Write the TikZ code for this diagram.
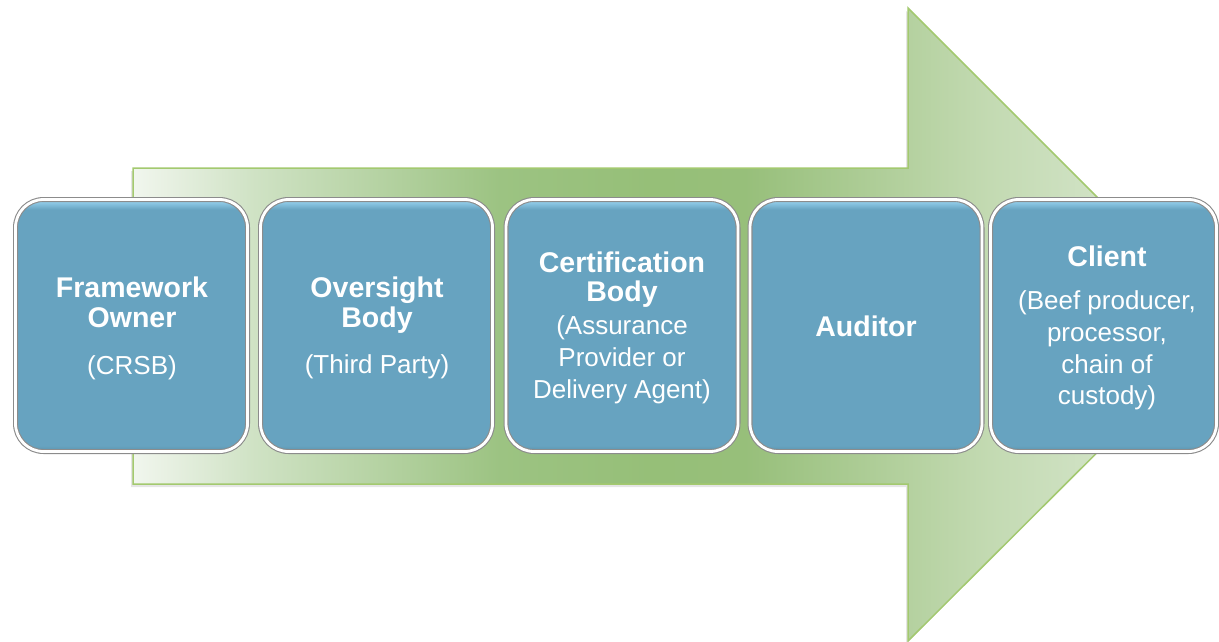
\documentclass[tikz,border=0pt]{standalone}
\usepackage{fontspec}
\setmainfont{Liberation Sans}
\usetikzlibrary{shadows}
\definecolor{a0}{HTML}{F1F6EE}
\definecolor{a1}{HTML}{CFE2C4}
\definecolor{a2}{HTML}{9CC382}
\definecolor{a3}{HTML}{96BF78}
\definecolor{a3b}{HTML}{97BF7A}
\definecolor{a4}{HTML}{C3DAB2}
\definecolor{a5}{HTML}{E0ECDA}
\definecolor{arrowedge}{HTML}{A3C96F}
\definecolor{bmain}{HTML}{67A3C0}
\definecolor{bdk}{HTML}{5A93AE}
\definecolor{blt}{HTML}{92CDEA}
\definecolor{boxedge}{HTML}{8C8C8C}
\pgfdeclarehorizontalshading{arrowshade}{100bp}{color(0bp)=(a0); color(25bp)=(a0); color(30.6bp)=(a1); color(41.8bp)=(a2); color(48.7bp)=(a3); color(53bp)=(a3b); color(64.2bp)=(a4); color(75bp)=(a5); color(100bp)=(a5)}
\pgfdeclareverticalshading{boxshade}{100bp}{color(0bp)=(bdk); color(25bp)=(bdk); color(26.2bp)=(bmain); color(73bp)=(bmain); color(74.6bp)=(blt); color(75bp)=(blt); color(100bp)=(blt)}
\tikzset{
  box/.style={rectangle, minimum width=232pt, minimum height=252pt, inner sep=0pt,
    rounded corners=28pt, shading=boxshade, draw=boxedge, double=white,
    line width=1.1pt, double distance=2.8pt,
    drop shadow={shadow xshift=1.2pt, shadow yshift=-1.6pt, opacity=0.35, fill=black}},
  ttl/.style={anchor=base, inner sep=0pt, text=white, font=\fontsize{28.5}{30}\selectfont\bfseries},
  sub/.style={anchor=base, inner sep=0pt, text=white, font=\fontsize{26}{32}\selectfont}
}
\begin{document}
\begin{tikzpicture}[x=1pt, y=-1pt]
\useasboundingbox (0,0) rectangle (1219,642);
% arrow shadow
\fill[black, opacity=0.10, shift={(-2,3)}]
  (133,168) -- (908,168) -- (908,8) -- (1225,325) -- (908,641) -- (908,484) -- (133,484) -- cycle;
% arrow
\path[shading=arrowshade, draw=arrowedge, line width=1.5pt, line join=miter]
  (133,168) -- (908,168) -- (908,8) -- (1225,325) -- (908,641) -- (908,484) -- (133,484) -- cycle;
% boxes
\node[box] (b1) at (131.5,325.5) {};
\node[box] (b2) at (376.5,325.5) {};
\node[box] (b3) at (622,325.5) {};
\node[box] (b4) at (866,325.5) {};
\node[box, minimum width=226pt] (b5) at (1103.5,325.5) {};
% texts
\node[ttl] (t1a) at (132,297) {Framework};
\node[ttl] (t1b) at (132,327) {Owner};
\node[sub] (t1c) at (132,374) {(CRSB)};
\node[ttl] (t2a) at (377,297) {Oversight};
\node[ttl] (t2b) at (377,327) {Body};
\node[sub] (t2c) at (377,373) {(Third Party)};
\node[ttl] (t3a) at (622,272) {Certification};
\node[ttl] (t3b) at (622,301) {Body};
\node[sub] (t3c) at (622,334) {(Assurance};
\node[sub] (t3d) at (622,366) {Provider or};
\node[sub] (t3e) at (622,398) {Delivery Agent)};
\node[ttl] (t4a) at (866,336) {Auditor};
\node[ttl] (t5a) at (1107,266) {Client};
\node[sub] (t5b) at (1107,309) {(Beef producer,};
\node[sub] (t5c) at (1107,341) {processor,};
\node[sub] (t5d) at (1107,373) {chain of};
\node[sub] (t5e) at (1107,404) {custody)};
\end{tikzpicture}
\end{document}
